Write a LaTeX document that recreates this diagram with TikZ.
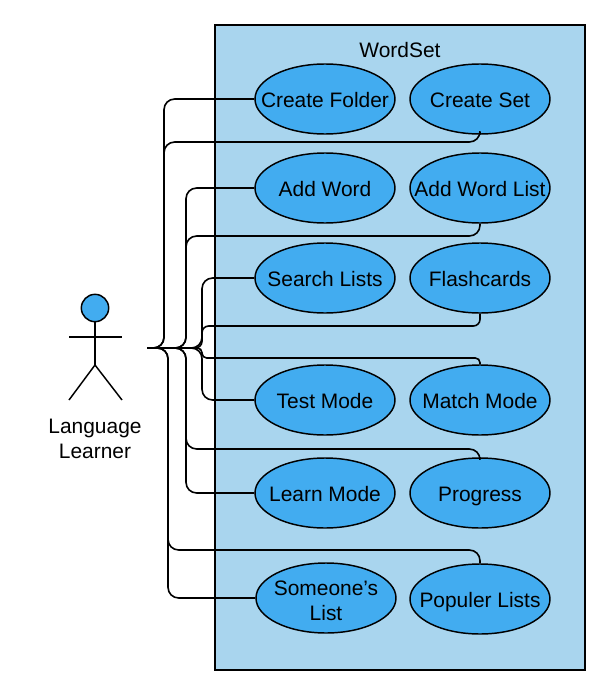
\documentclass[tikz,border=0pt]{standalone}
\usepackage{fontspec}
\setmainfont{Liberation Sans}
\usetikzlibrary{shapes.geometric}
\definecolor{boxblue}{RGB}{169,213,238}
\definecolor{caseblue}{RGB}{66,172,240}
\tikzset{
    casetext/.style={inner sep=0pt, align=center, text height=12.6pt, text depth=0pt, font=\fontsize{15.7}{18.5}\selectfont},
    caseshape/.style={draw, ellipse, fill=caseblue, line width=1.1pt, minimum width=105pt, minimum height=52.5pt, inner sep=0pt},
    usecase/.style={caseshape, label={[casetext]center:#1}},
    link/.style={line width=1.2pt, rounded corners=8pt},
    stick/.style={line width=1.1pt}
}
\begin{document}
\begin{tikzpicture}[x=0.75pt, y=-0.75pt]
    \useasboundingbox (0,0) rectangle (603,685);

    % System box
    \draw[stick, fill=boxblue] (215,25) rectangle (585,670);
    \node[font=\fontsize{15.7}{18.5}\selectfont] (title) at (400,50) {WordSet};

    % Actor
    \node[draw, circle, fill=caseblue, stick, minimum size=20.5pt, inner sep=0pt] (head) at (95,308) {};
    \coordinate (hip) at (95,365);
    \coordinate (armL) at (69,337);
    \coordinate (armR) at (122,337);
    \coordinate (footL) at (69,400);
    \coordinate (footR) at (122,400);
    \draw[stick] (head) -- (hip);
    \draw[stick] (armL) -- (armR);
    \draw[stick] (footL) -- (hip) -- (footR);
    \node[align=center, font=\fontsize{15.7}{18.8}\selectfont] (actor) at (95,439) {Language\\Learner};
    \coordinate (hand) at (147,348);

    % Use cases
    \node[usecase={Create Folder}] (folder) at (325,99) {};
    \node[usecase={Create Set}] (set) at (480,99) {};
    \node[usecase={Add Word}] (word) at (325,188) {};
    \node[usecase={Add Word List}] (wordlist) at (480,188) {};
    \node[usecase={Search Lists}] (search) at (325,278) {};
    \node[usecase={Flashcards}] (flash) at (480,278) {};
    \node[usecase={Test Mode}] (test) at (325,400) {};
    \node[usecase={Match Mode}] (match) at (480,400) {};
    \node[usecase={Learn Mode}] (learn) at (325,493) {};
    \node[usecase={Progress}] (progress) at (480,493) {};
    \node[caseshape, label={[casetext, yshift=-10.5pt]center:Someone's\\List}] (someone) at (326,598) {};
    \node[usecase={Populer Lists}] (popular) at (480,599) {};

    % Links
    \draw[link] (hand) -- (164,348) -- (164,99) -- (folder);
    \draw[link] (hand) -- (164,348) -- (164,142) -- (480,142) -- (set);
    \draw[link] (hand) -- (186,348) -- (186,188) -- (word);
    \draw[link] (hand) -- (186,348) -- (186,236) -- (480,236) -- (wordlist);
    \draw[link] (hand) -- (202,348) -- (202,278) -- (search);
    \draw[link, rounded corners=5pt] (hand) -- (202,348) -- (202,326) -- (480,326) -- (flash);
    \draw[link, rounded corners=3.5pt] (hand) -- (202,348) -- (202,358) -- (480,358) -- (match);
    \draw[link] (hand) -- (202,348) -- (202,400) -- (test);
    \draw[link] (hand) -- (186,348) -- (186,449) -- (480,449) -- (progress);
    \draw[link] (hand) -- (186,348) -- (186,493) -- (learn);
    \draw[link] (hand) -- (168,348) -- (168,550) -- (480,550) -- (popular);
    \draw[link] (hand) -- (168,348) -- (168,598) -- (someone);
\end{tikzpicture}
\end{document}
